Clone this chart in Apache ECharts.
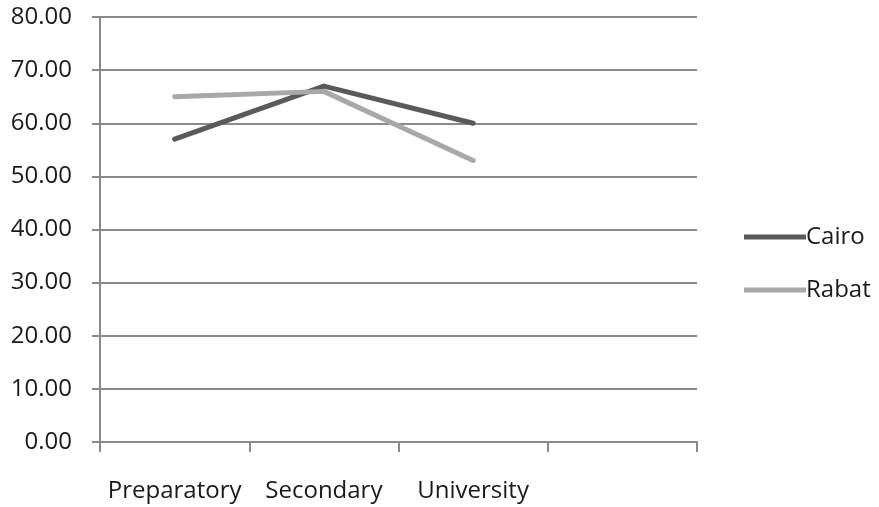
<!DOCTYPE html>
<html>
<head>
<meta charset="utf-8">
<script src="https://cdn.jsdelivr.net/npm/echarts@6/dist/echarts.min.js"></script>
<style>
  html, body { margin: 0; padding: 0; background: #fff; }
  #chart { width: 879px; height: 507px; }
</style>
</head>
<body>
<div id="chart"></div>
<script>
// Education levels (the fourth slot on the axis is left empty)
const categories = ['Preparatory', 'Secondary', 'University', ''];
const cairo = [57, 67, 60, null];
const rabat = [65, 66, 53, null];
const yTicks = { min: 0, max: 80, interval: 10 };

const FONT = '"Open Sans", sans-serif';
const AXIS_GREY = '#8a8a8a';

const chart = echarts.init(document.getElementById('chart'), null, { renderer: 'canvas' });
chart.setOption({
  animation: false,
  backgroundColor: '#ffffff',
  grid: { left: 100, right: 182, top: 17, bottom: 65 },
  legend: {
    orient: 'vertical',
    left: 739,
    top: 220,
    icon: 'rect',
    itemWidth: 62,
    itemHeight: 5,
    itemGap: 29,
    textStyle: { fontFamily: FONT, fontSize: 24, color: '#1a1a1a', padding: [0, 0, 0, -5] },
    data: ['Cairo', 'Rabat']
  },
  xAxis: {
    type: 'category',
    data: categories,
    boundaryGap: true,
    axisLine: { lineStyle: { color: AXIS_GREY, width: 2 } },
    axisTick: { show: true, length: 10, alignWithLabel: false, lineStyle: { color: AXIS_GREY, width: 2 } },
    axisLabel: { fontFamily: FONT, fontSize: 24, color: '#1a1a1a', margin: 37, interval: 0 },
    splitLine: { show: false }
  },
  yAxis: {
    type: 'value',
    min: yTicks.min,
    max: yTicks.max,
    interval: yTicks.interval,
    axisLine: { show: true, lineStyle: { color: AXIS_GREY, width: 2 } },
    axisTick: { show: true, length: 8, lineStyle: { color: AXIS_GREY, width: 2 } },
    axisLabel: {
      fontFamily: FONT, fontSize: 24, color: '#1a1a1a', margin: 28,
      formatter: v => v.toFixed(2)
    },
    splitLine: { show: true, lineStyle: { color: AXIS_GREY, width: 2 } }
  },
  series: [
    {
      name: 'Cairo', type: 'line', data: cairo, symbol: 'none',
      lineStyle: { color: '#5a5a5a', width: 5, cap: 'round', join: 'round' }, itemStyle: { color: '#5a5a5a' }
    },
    {
      name: 'Rabat', type: 'line', data: rabat, symbol: 'none',
      lineStyle: { color: '#a8a8a8', width: 5, cap: 'round', join: 'round' }, itemStyle: { color: '#a8a8a8' }
    }
  ]
});
</script>
</body>
</html>
